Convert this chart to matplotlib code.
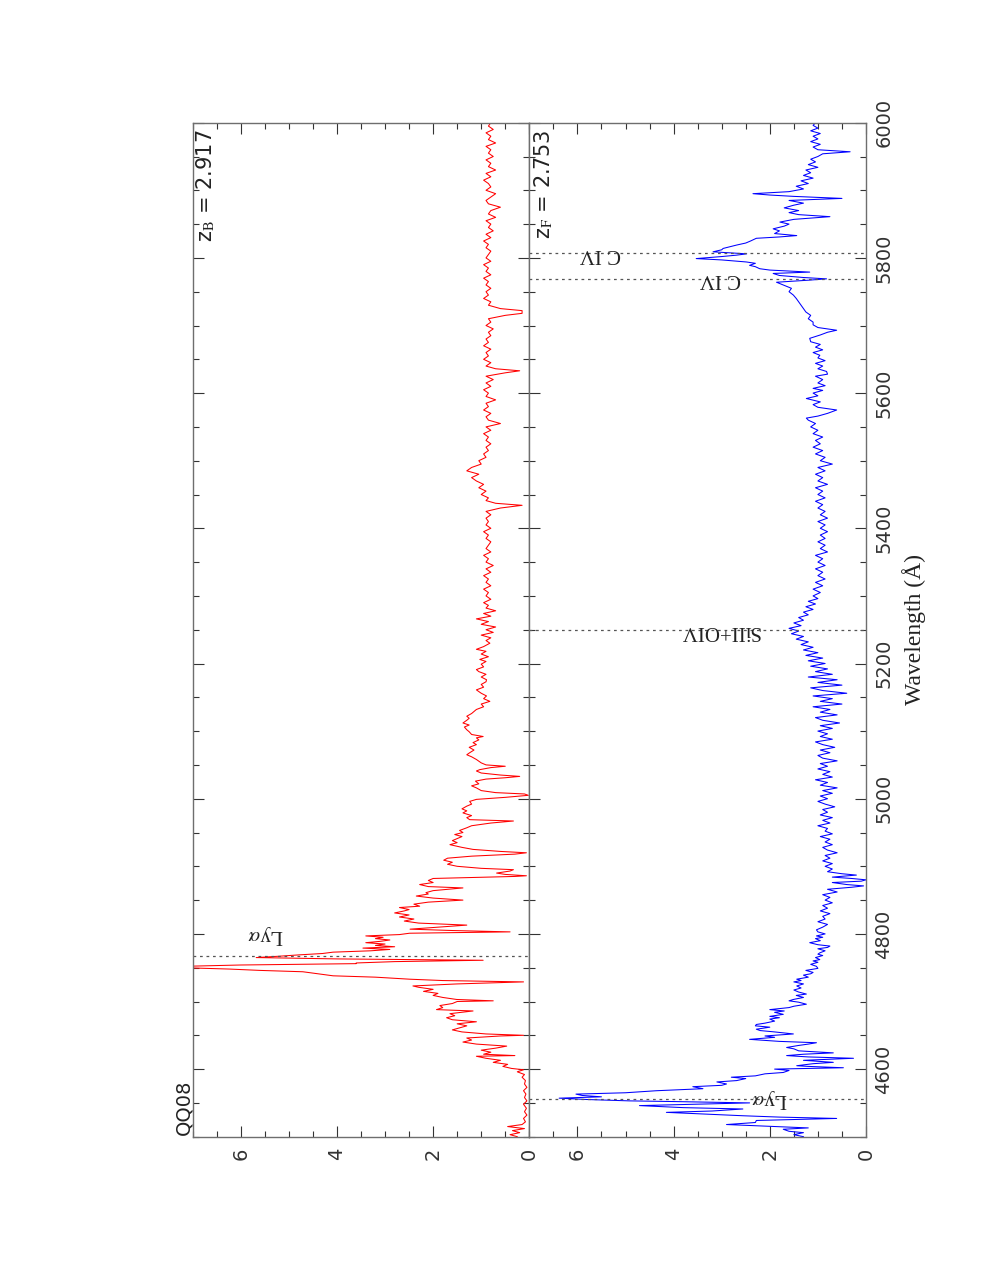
import matplotlib
matplotlib.use("Agg")
import matplotlib.pyplot as plt
from matplotlib.ticker import MultipleLocator

# ---------------- data ----------------
red_wave = [4500, 4503, 4506, 4509, 4512, 4515, 4518, 4522, 4527, 4532, 4537, 4542, 4548, 4553, 4558,
            4563, 4568, 4573, 4578, 4583, 4588, 4592, 4596, 4599, 4601, 4604, 4607, 4610, 4613, 4616,
            4619, 4620, 4622, 4625, 4628, 4631, 4634, 4637, 4640, 4643, 4646, 4649, 4650, 4652, 4655,
            4658, 4661, 4664, 4667, 4670, 4673, 4676, 4679, 4682, 4686, 4688, 4691, 4694, 4697, 4700,
            4701, 4703, 4706, 4709, 4712, 4715, 4718, 4721, 4723, 4726, 4729, 4731, 4733, 4736, 4738,
            4741, 4744, 4746, 4748, 4750, 4752, 4754, 4756, 4757, 4759, 4761, 4763, 4765, 4767, 4769,
            4771, 4773, 4775, 4777, 4779, 4781, 4783, 4785, 4787, 4789, 4791, 4793, 4795, 4797, 4799,
            4801, 4803, 4805, 4807, 4810, 4813, 4816, 4819, 4822, 4825, 4828, 4831, 4834, 4836, 4839,
            4841, 4844, 4847, 4850, 4853, 4856, 4859, 4861, 4864, 4868, 4870, 4873, 4876, 4879, 4882,
            4885, 4886, 4888, 4890, 4893, 4895, 4897, 4900, 4903, 4906, 4909, 4912, 4915, 4918, 4920,
            4922, 4925, 4928, 4932, 4935, 4938, 4941, 4944, 4947, 4950, 4953, 4957, 4960, 4964, 4967,
            4969, 4972, 4975, 4979, 4982, 4985, 4989, 4992, 4996, 4999, 5002, 5005, 5007, 5009, 5012,
            5016, 5019, 5022, 5026, 5029, 5031, 5033, 5035, 5038, 5041, 5043, 5046, 5048, 5050, 5053,
            5058, 5062, 5065, 5068, 5072, 5076, 5080, 5083, 5087, 5090, 5092, 5095, 5099, 5102, 5106,
            5109, 5112, 5116, 5119, 5122, 5126, 5129, 5132, 5136, 5140, 5144, 5148, 5152, 5156, 5161,
            5165, 5169, 5173, 5176, 5180, 5184, 5188, 5191, 5195, 5199, 5203, 5206, 5210, 5214, 5218,
            5221, 5225, 5230, 5234, 5238, 5242, 5246, 5250, 5254, 5258, 5262, 5266, 5270, 5274, 5278,
            5282, 5286, 5290, 5295, 5300, 5305, 5310, 5315, 5320, 5325, 5330, 5335, 5340, 5345, 5350,
            5355, 5360, 5365, 5370, 5375, 5380, 5385, 5390, 5395, 5400, 5405, 5410, 5415, 5420, 5425,
            5430, 5434, 5437, 5441, 5445, 5450, 5455, 5460, 5465, 5470, 5475, 5480, 5485, 5490, 5495,
            5500, 5505, 5510, 5515, 5520, 5525, 5530, 5535, 5540, 5545, 5550, 5555, 5560, 5565, 5570,
            5575, 5580, 5585, 5590, 5595, 5600, 5605, 5610, 5615, 5620, 5625, 5630, 5633, 5636, 5640,
            5645, 5650, 5655, 5660, 5665, 5670, 5675, 5680, 5685, 5690, 5695, 5700, 5705, 5710, 5715,
            5718, 5722, 5725, 5730, 5735, 5740, 5745, 5750, 5755, 5760, 5765, 5770, 5775, 5780, 5785,
            5790, 5795, 5800, 5805, 5810, 5815, 5820, 5825, 5830, 5835, 5840, 5845, 5850, 5855, 5860,
            5865, 5870, 5875, 5880, 5885, 5890, 5895, 5900, 5905, 5910, 5915, 5920, 5925, 5930, 5935,
            5940, 5945, 5950, 5955, 5960, 5965, 5970, 5975, 5980, 5985, 5990, 5995, 6000]
red_flux = [0.25, 0.40, 0.20, 0.35, 0.10, 0.45, 0.15, 0.08, 0.12, 0.05, 0.10, 0.06, 0.12, 0.05, 0.10,
            0.07, 0.12, 0.05, 0.10, 0.08, 0.15, 0.10, 0.25, 0.12, 0.37, 0.55, 0.45, 0.75, 0.60, 0.90,
            1.10, 0.30, 0.95, 0.80, 1.00, 0.70, 0.47, 1.10, 1.38, 1.20, 1.30, 0.60, 0.12, 0.90, 1.40,
            1.60, 1.45, 1.30, 1.50, 1.10, 1.60, 1.72, 1.55, 1.65, 1.17, 1.93, 1.80, 1.86, 1.60, 1.50,
            0.75, 1.51, 1.80, 2.00, 1.90, 2.20, 2.00, 2.30, 2.42, 1.50, 0.12, 1.80, 2.49, 3.20, 4.08,
            4.40, 4.71, 5.60, 6.24, 7.20, 7.20, 6.00, 3.60, 3.60, 2.80, 0.96, 4.00, 5.68, 5.20, 4.78,
            4.30, 4.08, 3.30, 2.90, 3.46, 2.80, 3.20, 3.00, 3.40, 3.10, 2.90, 3.20, 3.04, 3.40, 2.70,
            2.49, 0.40, 1.60, 2.48, 1.90, 1.30, 2.30, 2.60, 2.40, 2.70, 2.50, 2.80, 2.60, 2.50, 2.70,
            2.28, 2.40, 2.10, 1.38, 2.00, 2.35, 2.10, 2.15, 2.00, 1.38, 2.10, 2.28, 2.00, 2.10, 2.00,
            0.30, 0.06, 0.50, 0.68, 0.40, 0.33, 1.00, 1.50, 1.70, 1.60, 1.78, 1.70, 1.20, 0.30, 0.06,
            0.60, 1.17, 1.40, 1.65, 1.50, 1.60, 1.50, 1.40, 1.55, 1.38, 1.45, 1.30, 1.20, 0.80, 0.33,
            1.24, 1.30, 1.20, 1.38, 1.30, 1.40, 1.30, 1.20, 1.24, 1.10, 0.50, 0.02, 0.10, 0.70, 1.00,
            1.10, 1.20, 1.05, 1.12, 0.90, 0.50, 0.20, 0.60, 1.00, 1.10, 1.03, 0.80, 0.50, 0.90, 1.00,
            1.10, 1.20, 1.30, 1.24, 1.15, 1.25, 1.10, 1.17, 1.05, 1.10, 0.96, 1.20, 1.25, 1.30, 1.35,
            1.25, 1.38, 1.30, 1.25, 1.30, 1.20, 1.15, 1.10, 0.95, 1.00, 0.82, 0.95, 0.89, 1.00, 1.10,
            0.95, 1.00, 0.90, 0.89, 1.00, 0.90, 1.05, 1.10, 0.95, 1.00, 0.90, 1.03, 0.85, 1.00, 0.90,
            1.10, 0.95, 0.82, 0.90, 0.80, 1.00, 0.75, 0.90, 0.70, 1.00, 0.85, 1.10, 0.80, 0.95, 0.70,
            0.90, 0.85, 0.95, 0.80, 0.90, 0.85, 0.95, 0.80, 0.90, 0.85, 0.95, 0.80, 0.90, 0.75, 0.90,
            0.85, 0.95, 0.80, 0.90, 0.85, 0.80, 0.90, 0.85, 0.95, 0.80, 0.90, 0.85, 0.90, 0.80, 0.90,
            0.60, 0.15, 0.70, 0.90, 0.85, 1.00, 0.90, 1.05, 0.95, 1.10, 1.20, 1.05, 1.30, 1.20, 1.00,
            1.05, 0.90, 0.95, 0.85, 0.90, 0.80, 0.90, 0.85, 0.95, 0.80, 0.90, 0.60, 0.85, 0.90, 0.80,
            0.95, 0.85, 0.90, 0.70, 0.90, 0.85, 0.95, 0.80, 0.90, 0.75, 0.90, 0.50, 0.20, 0.70, 0.90,
            0.80, 0.95, 0.85, 0.90, 0.80, 0.95, 0.85, 0.90, 0.80, 0.85, 0.75, 0.90, 0.80, 0.85, 0.50,
            0.15, 0.15, 0.60, 0.85, 0.80, 0.95, 0.85, 0.90, 0.80, 0.90, 0.85, 0.95, 0.80, 0.90, 0.85,
            0.95, 0.80, 0.90, 0.85, 0.80, 0.90, 0.85, 0.95, 0.80, 0.90, 0.75, 0.85, 0.80, 0.90, 0.70,
            0.85, 0.80, 0.60, 0.85, 0.90, 0.80, 0.70, 0.90, 0.80, 0.85, 0.95, 0.80, 0.90, 0.70, 0.85,
            0.80, 0.90, 0.75, 0.85, 0.80, 0.90, 0.70, 0.85, 0.80, 0.90, 0.75, 0.85, 0.80]

blue_wave = [4500, 4503, 4506, 4508, 4511, 4513, 4516, 4518, 4521, 4524, 4527, 4529, 4531, 4534, 4536,
             4538, 4541, 4543, 4546, 4548, 4550, 4552, 4553, 4555, 4557, 4559, 4561, 4563, 4565, 4568,
             4571, 4574, 4576, 4578, 4581, 4583, 4586, 4588, 4590, 4593, 4595, 4598, 4600, 4602, 4604,
             4605, 4608, 4610, 4613, 4616, 4618, 4620, 4622, 4624, 4627, 4630, 4632, 4635, 4637, 4639,
             4641, 4644, 4647, 4649, 4652, 4655, 4657, 4659, 4662, 4664, 4666, 4668, 4671, 4674, 4676,
             4678, 4681, 4684, 4686, 4688, 4691, 4693, 4696, 4699, 4701, 4703, 4706, 4709, 4711, 4714,
             4717, 4720, 4723, 4726, 4729, 4731, 4733, 4736, 4739, 4741, 4743, 4746, 4749, 4752, 4755,
             4758, 4760, 4762, 4765, 4768, 4770, 4772, 4775, 4778, 4780, 4782, 4784, 4787, 4790, 4793,
             4795, 4797, 4800, 4803, 4806, 4810, 4814, 4818, 4822, 4826, 4830, 4834, 4838, 4842, 4846,
             4850, 4854, 4858, 4862, 4866, 4869, 4871, 4873, 4876, 4878, 4880, 4882, 4884, 4887, 4889,
             4892, 4896, 4900, 4904, 4908, 4912, 4916, 4920, 4924, 4928, 4932, 4936, 4940, 4944, 4948,
             4952, 4956, 4960, 4964, 4968, 4972, 4976, 4980, 4984, 4988, 4992, 4996, 5000, 5004, 5008,
             5012, 5016, 5020, 5024, 5028, 5032, 5036, 5040, 5044, 5048, 5052, 5056, 5060, 5064, 5068,
             5072, 5076, 5080, 5084, 5088, 5092, 5096, 5100, 5104, 5108, 5112, 5116, 5120, 5124, 5128,
             5132, 5136, 5140, 5144, 5148, 5152, 5156, 5160, 5164, 5168, 5172, 5176, 5180, 5184, 5188,
             5192, 5196, 5200, 5204, 5208, 5212, 5216, 5220, 5224, 5228, 5232, 5236, 5240, 5244, 5248,
             5252, 5256, 5260, 5264, 5268, 5272, 5276, 5280, 5284, 5288, 5292, 5296, 5300, 5305, 5310,
             5315, 5320, 5325, 5330, 5335, 5340, 5345, 5350, 5355, 5360, 5365, 5370, 5375, 5380, 5385,
             5390, 5395, 5400, 5405, 5410, 5415, 5420, 5425, 5430, 5435, 5440, 5445, 5450, 5455, 5460,
             5465, 5470, 5475, 5480, 5485, 5490, 5495, 5500, 5505, 5510, 5515, 5520, 5525, 5530, 5535,
             5540, 5545, 5550, 5555, 5560, 5563, 5566, 5570, 5575, 5579, 5583, 5587, 5592, 5596, 5600,
             5604, 5607, 5611, 5615, 5620, 5625, 5628, 5632, 5636, 5640, 5644, 5648, 5652, 5656, 5660,
             5664, 5668, 5672, 5676, 5681, 5686, 5690, 5693, 5697, 5701, 5705, 5710, 5715, 5720, 5725,
             5730, 5735, 5740, 5745, 5750, 5755, 5760, 5764, 5767, 5769, 5771, 5774, 5777, 5779, 5782,
             5784, 5787, 5789, 5792, 5794, 5797, 5799, 5802, 5804, 5806, 5809, 5812, 5814, 5817, 5819,
             5822, 5825, 5829, 5831, 5833, 5836, 5840, 5843, 5847, 5850, 5853, 5857, 5861, 5864, 5867,
             5870, 5874, 5878, 5881, 5885, 5888, 5891, 5893, 5895, 5898, 5902, 5906, 5910, 5914, 5918,
             5922, 5926, 5930, 5934, 5938, 5942, 5946, 5950, 5954, 5957, 5960, 5964, 5968, 5972, 5976,
             5980, 5984, 5988, 5992, 5996, 6000]
blue_flux = [1.30, 1.50, 1.30, 1.60, 1.72, 1.20, 2.20, 2.90, 2.30, 2.28, 0.61, 1.80, 2.56, 3.50, 4.15,
             3.20, 2.56, 3.80, 4.71, 3.60, 2.42, 4.00, 4.92, 5.80, 6.38, 5.50, 5.90, 6.03, 5.00, 4.36,
             3.39, 3.60, 3.00, 2.90, 3.10, 2.69, 2.50, 2.80, 2.30, 2.10, 1.72, 1.60, 1.90, 0.47, 1.20,
             1.44, 1.10, 0.68, 1.30, 0.26, 1.20, 1.65, 1.30, 0.68, 1.40, 1.50, 1.65, 1.40, 1.20, 1.03,
             1.80, 2.42, 1.90, 2.10, 1.51, 1.90, 2.20, 2.28, 2.00, 2.30, 2.28, 2.10, 1.90, 2.00, 1.80,
             2.00, 1.72, 1.90, 1.70, 2.00, 1.60, 1.50, 1.24, 1.40, 1.60, 1.51, 1.30, 1.45, 1.24, 1.40,
             1.50, 1.35, 1.44, 1.30, 1.50, 1.35, 1.44, 1.20, 1.30, 1.15, 1.10, 1.25, 1.00, 1.03, 1.15,
             1.00, 1.10, 0.96, 1.05, 0.90, 1.00, 0.96, 0.85, 1.00, 0.80, 0.75, 1.00, 1.17, 0.95, 1.05,
             0.90, 1.03, 0.85, 1.00, 1.03, 0.90, 0.80, 1.00, 0.85, 0.90, 0.75, 0.95, 0.80, 0.90, 0.70,
             0.85, 0.75, 0.90, 0.60, 0.80, 0.30, 0.05, 0.40, 0.70, 0.10, 0.00, 0.30, 0.70, 0.20, 0.50,
             0.80, 0.70, 0.85, 0.70, 0.90, 0.75, 0.85, 0.60, 0.80, 0.90, 0.70, 0.85, 0.75, 0.95, 0.70,
             0.85, 0.80, 1.00, 0.75, 0.90, 0.70, 0.95, 0.80, 0.90, 0.65, 0.85, 1.00, 0.80, 0.95, 0.70,
             0.90, 0.60, 0.95, 0.80, 1.05, 0.70, 0.90, 0.75, 1.00, 0.80, 0.95, 0.60, 0.90, 1.00, 0.75,
             0.95, 0.65, 0.90, 1.05, 0.70, 0.95, 0.80, 1.00, 0.70, 0.95, 0.55, 0.90, 1.05, 0.60, 0.95,
             0.75, 1.10, 0.50, 0.95, 0.70, 1.10, 0.40, 0.90, 1.15, 0.50, 1.00, 0.60, 1.20, 0.70, 1.05,
             0.80, 1.15, 0.85, 1.20, 0.90, 1.25, 1.00, 1.30, 1.10, 1.35, 1.20, 1.45, 1.30, 1.55, 1.40,
             1.60, 1.35, 1.50, 1.30, 1.40, 1.20, 1.30, 1.10, 1.25, 1.05, 1.20, 1.00, 1.10, 0.95, 1.10,
             0.90, 1.05, 0.85, 1.00, 0.90, 1.05, 0.85, 1.00, 0.90, 1.05, 0.80, 0.95, 0.85, 1.00, 0.85,
             0.95, 0.80, 0.95, 0.85, 1.00, 0.80, 0.95, 0.85, 1.00, 0.90, 1.05, 0.85, 1.00, 0.90, 1.05,
             0.80, 1.00, 0.90, 1.05, 0.85, 1.00, 0.70, 0.95, 0.85, 1.05, 0.90, 1.10, 0.95, 1.05, 0.90,
             1.10, 1.00, 1.15, 1.05, 1.20, 1.24, 1.00, 0.80, 0.61, 1.00, 1.10, 0.95, 1.24, 1.00, 1.10,
             0.90, 1.10, 0.85, 1.00, 0.90, 1.05, 0.80, 0.82, 1.00, 0.90, 1.05, 0.85, 1.00, 0.96, 1.10,
             0.90, 1.05, 0.95, 1.15, 1.17, 0.95, 0.80, 0.61, 1.00, 1.10, 1.10, 1.20, 1.15, 1.25, 1.30,
             1.35, 1.40, 1.45, 1.51, 1.60, 1.55, 1.72, 1.86, 1.20, 0.82, 1.30, 1.80, 1.93, 1.17, 2.00,
             2.21, 2.30, 2.42, 2.30, 2.49, 3.00, 3.53, 3.00, 2.70, 2.48, 3.18, 3.00, 2.97, 2.80, 2.69,
             2.50, 2.40, 2.28, 1.80, 1.44, 1.90, 1.80, 1.93, 1.70, 1.60, 1.79, 1.50, 0.75, 1.40, 1.60,
             1.40, 1.70, 1.50, 1.30, 1.60, 0.50, 1.50, 2.00, 2.35, 1.60, 1.30, 1.45, 1.20, 1.35, 1.10,
             1.30, 1.15, 1.25, 1.00, 1.20, 1.05, 1.15, 1.00, 0.90, 0.33, 1.00, 1.10, 0.95, 1.15, 1.00,
             1.10, 0.95, 1.15, 1.00, 1.10, 1.05]

flux_ticks = [0, 2, 4, 6]
wave_ticks = [4600, 4800, 5000, 5200, 5400, 5600, 5800, 6000]

# line identifications: (wavelength, label)
red_lines = [(4768, r"Ly$\alpha$")]
blue_lines = [(4556, r"Ly$\alpha$"), (5249, "SiII+OIV"), (5769, "C IV"), (5807, "C IV")]

# ---------------- figure ----------------
plt.rcParams["mathtext.fontset"] = "stix"

W, H = 981, 1269
fig = plt.figure(figsize=(W / 100, H / 100), dpi=100)

ax_top = 122.7
ax_bot = 1136.7
x0, xm, x1 = 192.7, 529.3, 866.0
bottom = 1 - ax_bot / H
height = (ax_bot - ax_top) / H
ax1 = fig.add_axes([x0 / W, bottom, (xm - x0) / W, height])
ax2 = fig.add_axes([xm / W, bottom, (x1 - xm) / W, height])

spine_col = "#6e6e6e"
tick_col = "#333333"
dash = (0, (2.2, 3.0))
serif = "Liberation Serif"

ax1.plot(red_flux, red_wave, color="red", lw=0.75)
ax2.plot(blue_flux, blue_wave, color="blue", lw=0.75)

for ax in (ax1, ax2):
    ax.set_xlim(7, 0)
    ax.set_ylim(4500, 6000)
    ax.set_xticks(flux_ticks)
    ax.xaxis.set_minor_locator(MultipleLocator(0.5))
    ax.set_yticks(wave_ticks)
    ax.yaxis.set_minor_locator(MultipleLocator(50))
    ax.set_ylim(4500, 6000)
    ax.tick_params(which="both", direction="in", top=True, bottom=True, left=True, right=True,
                   color=tick_col, width=0.8)
    ax.tick_params(which="major", length=8)
    ax.tick_params(which="minor", length=4)
    ax.tick_params(axis="x", labelrotation=90, labelsize=14, labelcolor=tick_col, pad=8)
    ax.tick_params(axis="y", labelleft=False, labelright=False)
    for s in ax.spines.values():
        s.set_color(spine_col)
        s.set_linewidth(1.0)

ax2.tick_params(axis="y", labelright=True, labelrotation=90, labelsize=14, labelcolor=tick_col, pad=6)
for t in ax2.get_yticklabels():
    t.set_va("center")

ax2.yaxis.set_label_position("right")
ax2.set_ylabel("Wavelength (Å)", fontsize=17, family=serif, color="#222222", rotation=90, labelpad=6)

for wl, lab in red_lines:
    ax1.axhline(wl, color="#555555", lw=0.9, ls=dash)
for wl, lab in blue_lines:
    ax2.axhline(wl, color="#555555", lw=0.9, ls=dash)

# line labels (rotated 180 as in the original rotated page)
lab_kw = dict(rotation=180, ha="center", va="center", fontsize=15, family=serif, color="#222222")
ax1.text(5.49, 4799, red_lines[0][1], **lab_kw)
ax2.text(2.0, blue_lines[0][0], blue_lines[0][1], **lab_kw)
ax2.text(3.04, blue_lines[1][0], blue_lines[1][1], **lab_kw)
ax2.text(3.02, blue_lines[2][0], blue_lines[2][1], **lab_kw)
ax2.text(5.52, blue_lines[3][0], blue_lines[3][1], **lab_kw)

# redshift annotations
ax1.text(6.73, 5990, r"z$_{\rm B}$ = 2.917", rotation=90, ha="center", va="top", fontsize=15, color="#222222")
ax2.text(6.70, 5990, r"z$_{\rm F}$ = 2.753", rotation=90, ha="center", va="top", fontsize=15, color="#222222")
fig.text(184 / W, 1 - 1135 / H, "QQ08", rotation=90, ha="center", va="bottom", fontsize=14, color="#222222")

fig.savefig("out.png", dpi=100, facecolor="white")
